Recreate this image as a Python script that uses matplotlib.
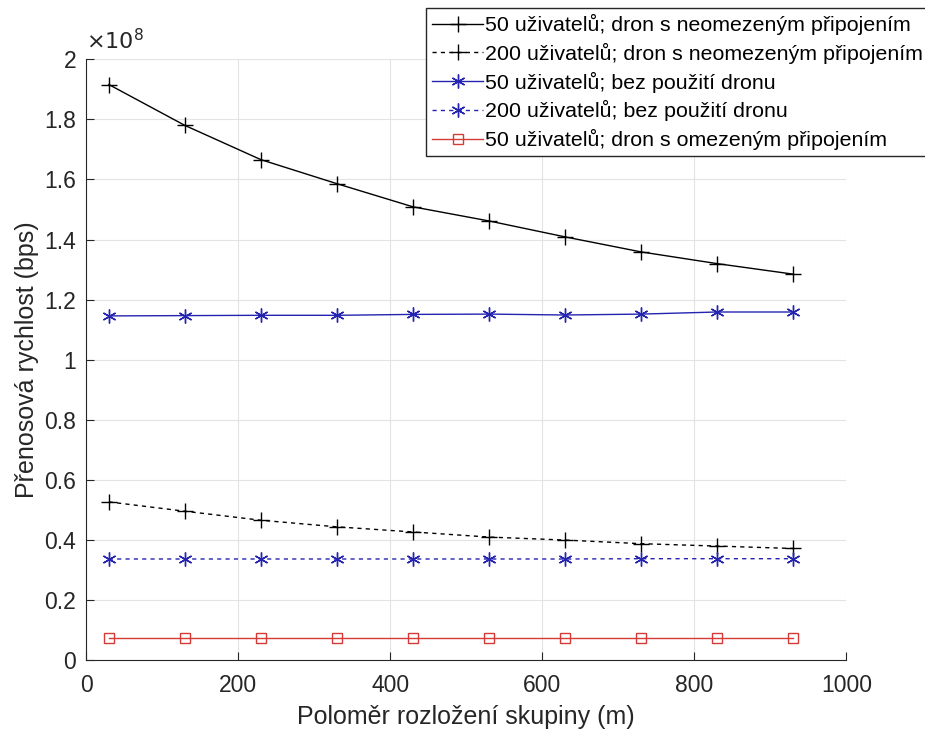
import matplotlib
matplotlib.use("Agg")
import matplotlib.pyplot as plt
from matplotlib.ticker import FuncFormatter

plt.rcParams["font.family"] = ["Liberation Sans", "DejaVu Sans"]

# polomer rozlozeni skupiny (m)
radius = [30, 130, 230, 330, 430, 530, 630, 730, 830, 930]

# prenosova rychlost, v jednotkach 1e8 bps
rate_50_unlimited = [1.916, 1.780, 1.666, 1.586, 1.509, 1.462, 1.409, 1.359, 1.320, 1.285]
rate_200_unlimited = [0.527, 0.496, 0.466, 0.444, 0.427, 0.410, 0.400, 0.388, 0.380, 0.372]
rate_50_no_drone = [1.146, 1.147, 1.148, 1.148, 1.151, 1.152, 1.149, 1.152, 1.159, 1.159]
rate_200_no_drone = [0.337, 0.337, 0.337, 0.337, 0.337, 0.337, 0.337, 0.338, 0.338, 0.338]
rate_50_limited = [0.074, 0.074, 0.074, 0.074, 0.074, 0.074, 0.074, 0.074, 0.074, 0.074]

labels = [
    "50 uživatelů; dron s neomezeným připojením",
    "200 uživatelů; dron s neomezeným připojením",
    "50 uživatelů; bez použití dronu",
    "200 uživatelů; bez použití dronu",
    "50 uživatelů; dron s omezeným připojením",
]

BLUE = "#2424b0"
RED = "#d63a36"
DARK = "#262626"
ASTERISK = (6, 2, 0)   # MATLAB-like '*' marker

fig = plt.figure(figsize=(9.25, 7.32), dpi=100)
ax = fig.add_axes([0.093, 0.098, 0.822, 0.821])

ax.plot(radius, rate_50_unlimited, color="black", lw=1.0, marker="+",
        ms=11, mew=1.0, label=labels[0])
ax.plot(radius, rate_200_unlimited, color="black", lw=1.0, ls=(0, (3, 3)),
        marker="+", ms=11, mew=1.0, label=labels[1])
ax.plot(radius, rate_50_no_drone, color=BLUE, lw=1.0, marker=ASTERISK,
        ms=10, mew=1.0, label=labels[2])
ax.plot(radius, rate_200_no_drone, color=BLUE, lw=1.0, ls=(0, (3, 3)),
        marker=ASTERISK, ms=10, mew=1.0, label=labels[3])
ax.plot(radius, rate_50_limited, color=RED, lw=1.0, marker="s", ms=7,
        mfc="none", mew=1.0, label=labels[4])

ax.set_xlim(0, 1000)
ax.set_ylim(0, 2)
ax.set_xticks(range(0, 1001, 200))
ax.set_yticks([i * 0.2 for i in range(11)])
ax.yaxis.set_major_formatter(FuncFormatter(lambda v, p: f"{v:g}"))
ax.tick_params(direction="in", labelsize=16.5, colors=DARK, length=6)
ax.tick_params(axis="x", pad=10)
ax.tick_params(axis="y", pad=7)
ax.grid(True, color="#e3e3e3", lw=0.8)
ax.set_axisbelow(True)
for s in ("top", "right"):
    ax.spines[s].set_visible(False)
for s in ("left", "bottom"):
    ax.spines[s].set_color(DARK)

ax.set_xlabel("Poloměr rozložení skupiny (m)", fontsize=18, color=DARK,
              labelpad=6)
ax.set_ylabel("Přenosová rychlost (bps)", fontsize=18, color=DARK,
              labelpad=4)
ax.text(0.0, 1.008, r"$\times10^{8}$", transform=ax.transAxes, fontsize=16,
        color=DARK, ha="left", va="bottom")

fig.legend(loc="upper left", bbox_to_anchor=(426 / 925, 1 - 8 / 732),
           fontsize=15.4, frameon=True, fancybox=False, edgecolor=DARK,
           framealpha=1, handlelength=2.4, handletextpad=0.1,
           borderpad=0.28, labelspacing=0.36, borderaxespad=0)

fig.savefig("out.png", dpi=100)
